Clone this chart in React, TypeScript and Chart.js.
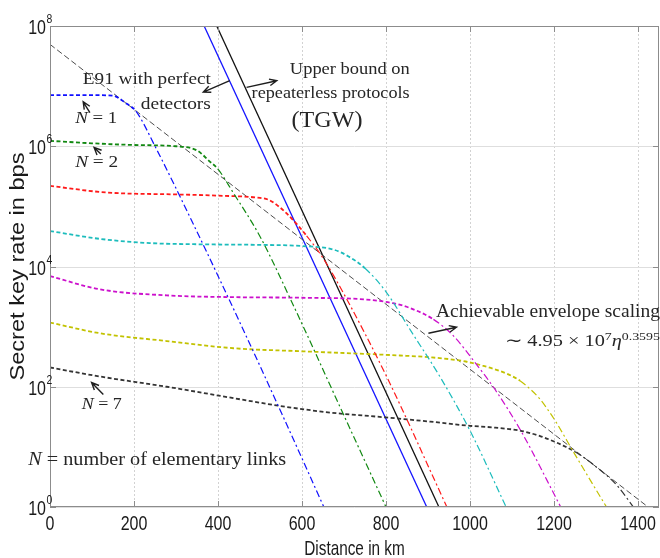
import React, { useEffect, useRef } from 'react';
import { Chart, registerables } from 'chart.js';

Chart.register(...registerables);

// ---- data (distance in km, secret key rate in bps) ----
const distN1 = [0, 100, 150, 180, 205, 250, 345, 450, 552, 652];
const rateN1 = [7.08e6, 7.08e6, 6.92e6, 5.25e6, 3.8e6, 1.0e6, 4.47e4, 1.26e3, 35.5, 1];

const distN2 = [0, 100, 200, 300, 350, 380, 400, 436, 500, 571, 700, 800];
const rateN2 = [1.23e6, 1.12e6, 1.05e6, 1.0e6, 8.51e5, 5.62e5, 4.17e5, 1.7e5, 3.16e4, 3.02e3, 33.1, 1];

const distN3 = [0, 135, 300, 400, 500, 520, 548, 575, 611, 650, 700, 802, 945];
const rateN3 = [2.19e5, 1.7e5, 1.58e5, 1.51e5, 1.38e5, 1.29e5, 9.55e4, 6.31e4, 3.24e4, 1.38e4, 3.47e3, 145, 1];

const distN4 = [0, 119, 238, 357, 500, 600, 675, 710, 750, 800, 860, 930, 1000, 1086];
const rateN4 = [3.89e4, 2.88e4, 2.45e4, 2.34e4, 2.29e4, 2.19e4, 1.91e4, 1.48e4, 9.33e3, 3.8e3, 832, 141, 18.6, 1];

const distN5 = [0, 119, 278, 437, 600, 754, 817, 857, 913, 960, 1010, 1060, 1120, 1216];
const rateN5 = [6.92e3, 4.17e3, 3.31e3, 3.09e3, 3.02e3, 2.82e3, 2.45e3, 2.04e3, 1.32e3, 708, 263, 89.1, 19.1, 1];

const distN6 = [0, 119, 278, 437, 600, 833, 905, 990, 1030, 1063, 1090, 1119, 1145, 1167, 1190, 1206, 1246, 1286, 1325];
const rateN6 = [1.17e3, 776, 575, 437, 389, 331, 309, 263, 224, 191, 162, 126, 89.1, 61.7, 37.2, 25.1, 8.32, 2.82, 1];

const distN7 = [0, 119, 278, 437, 548, 667, 800, 905, 1000, 1060, 1119, 1167, 1200, 1222, 1250, 1300, 1350, 1389];
const rateN7 = [209, 148, 100, 64.6, 47.9, 37.2, 30.9, 26.3, 22.4, 20.9, 18.6, 15.1, 12.3, 10.5, 8.32, 4.68, 2.29, 1];

const envelopeDist = [0, 1424];
const envelopeRate = [4.95e7, 1];

const e91Dist = [367, 897];
const e91Rate = [1e8, 1];

const tgwDist = [397, 926];
const tgwRate = [1e8, 1];

const xTickValues = [0, 200, 400, 600, 800, 1000, 1200, 1400];
const yTickValues = [1, 1e2, 1e4, 1e6, 1e8];
const yTickExponents = ['0', '2', '4', '6', '8'];

const curveDist = [distN1, distN2, distN3, distN4, distN5, distN6, distN7];
const curveRate = [rateN1, rateN2, rateN3, rateN4, rateN5, rateN6, rateN7];

// ---- styles ----
const curveStyles = [
  { color: '#1010ff', brk: 205 },
  { color: '#118811', brk: 400 },
  { color: '#ff1a1a', brk: 611 },
  { color: '#1cbcbc', brk: 750 },
  { color: '#cc10cc', brk: 913 },
  { color: '#c2c200', brk: 1119 },
  { color: '#333333', brk: 1250 },
];

type Run = { t: string; it?: boolean; sup?: boolean };
type Note = { runs: Run[]; x: number; e: number; size: number; width: number; align?: 'left' | 'right' | 'center' };

const notes: Note[] = [
  { runs: [{ t: 'E91 with perfect' }], x: 383, e: 7.03, size: 17.5, width: 128, align: 'right' },
  { runs: [{ t: 'detectors' }], x: 383, e: 6.62, size: 17.5, width: 70, align: 'right' },
  { runs: [{ t: 'Upper bound on' }], x: 571, e: 7.2, size: 17.5, width: 120 },
  { runs: [{ t: 'repeaterless protocols' }], x: 480, e: 6.81, size: 17.5, width: 158 },
  { runs: [{ t: '(TGW)' }], x: 575, e: 6.32, size: 23, width: 71 },
  { runs: [{ t: 'N', it: true }, { t: ' = 1' }], x: 60, e: 6.39, size: 16, width: 42 },
  { runs: [{ t: 'N', it: true }, { t: ' = 2' }], x: 60, e: 5.65, size: 16, width: 43 },
  { runs: [{ t: 'N', it: true }, { t: ' = 7' }], x: 75.5, e: 1.63, size: 16, width: 40 },
  { runs: [{ t: 'N', it: true }, { t: ' = number of elementary links' }], x: -52, e: 0.7, size: 18, width: 258 },
  { runs: [{ t: 'Achievable envelope scaling' }], x: 919, e: 3.16, size: 18, width: 224 },
  {
    runs: [{ t: '\u223C 4.95 \u00D7 10' }, { t: '7', sup: true }, { t: '\u03B7', it: true }, { t: '0.3595', sup: true }],
    x: 1083, e: 2.67, size: 16.5, width: 155,
  },
];

const arrows = [
  { from: [428, 7.09], to: [365, 6.9] },
  { from: [468, 6.98], to: [540, 7.09] },
  { from: [95, 6.56], to: [79, 6.74] },
  { from: [121, 5.87], to: [105, 5.98] },
  { from: [127, 1.87], to: [99, 2.07] },
  { from: [901, 2.89], to: [968, 2.99] },
];

const SANS = '"Liberation Sans", Arial, sans-serif';
const SERIF = '"Liberation Serif", "Times New Roman", serif';

function drawScaled(ctx: CanvasRenderingContext2D, text: string, x: number, y: number, font: string, sx: number, align: string) {
  ctx.save();
  ctx.font = font;
  const w = ctx.measureText(text).width * sx;
  const x0 = align === 'center' ? x - w / 2 : align === 'right' ? x - w : x;
  ctx.translate(x0, y);
  ctx.scale(sx, 1);
  ctx.textAlign = 'left';
  ctx.textBaseline = 'alphabetic';
  ctx.fillText(text, 0, 0);
  ctx.restore();
}

function drawRuns(ctx: CanvasRenderingContext2D, runs: Run[], x: number, y: number, size: number, targetW: number, align: string) {
  ctx.save();
  const fonts = runs.map((r) => `${r.it ? 'italic ' : ''}${r.sup ? size * 0.68 : size}px ${SERIF}`);
  const widths = runs.map((r, i) => {
    ctx.font = fonts[i];
    return ctx.measureText(r.t).width;
  });
  const total = widths.reduce((a, b) => a + b, 0);
  const sx = targetW / total;
  const w = total * sx;
  const x0 = align === 'center' ? x - w / 2 : align === 'right' ? x - w : x;
  ctx.translate(x0, y);
  ctx.scale(sx, 1);
  ctx.textAlign = 'left';
  ctx.textBaseline = 'alphabetic';
  let cx = 0;
  runs.forEach((r, i) => {
    ctx.font = fonts[i];
    ctx.fillText(r.t, cx, r.sup ? -size * 0.42 : 0);
    cx += widths[i];
  });
  ctx.restore();
}

const decorPlugin = {
  id: 'decor',
  beforeDatasetsDraw(chart: any) {
    const { ctx, chartArea: a, scales } = chart;
    const xs = scales.x;
    const ys = scales.y;
    ctx.save();
    ctx.strokeStyle = '#d2d2d2';
    ctx.lineWidth = 1;
    ctx.setLineDash([2, 2]);
    xTickValues.forEach((v) => {
      const px = Math.round(xs.getPixelForValue(v)) + 0.5;
      ctx.beginPath();
      ctx.moveTo(px, a.top);
      ctx.lineTo(px, a.bottom);
      ctx.stroke();
    });
    ctx.setLineDash([]);
    ctx.strokeStyle = '#dedede';
    yTickValues.forEach((v) => {
      const py = Math.round(ys.getPixelForValue(v)) + 0.5;
      ctx.beginPath();
      ctx.moveTo(a.left, py);
      ctx.lineTo(a.right, py);
      ctx.stroke();
    });
    ctx.restore();
  },
  afterDatasetsDraw(chart: any) {
    const { ctx, chartArea: a, scales } = chart;
    const xs = scales.x;
    const ys = scales.y;
    ctx.save();
    // box and inward ticks
    ctx.strokeStyle = '#8c8c8c';
    ctx.lineWidth = 1;
    ctx.strokeRect(a.left + 0.5, a.top + 0.5, a.right - a.left - 1, a.bottom - a.top - 1);
    ctx.beginPath();
    xTickValues.forEach((v) => {
      const px = Math.round(xs.getPixelForValue(v)) + 0.5;
      ctx.moveTo(px, a.bottom);
      ctx.lineTo(px, a.bottom - 6);
      ctx.moveTo(px, a.top);
      ctx.lineTo(px, a.top + 6);
    });
    yTickValues.forEach((v) => {
      const py = Math.round(ys.getPixelForValue(v)) + 0.5;
      ctx.moveTo(a.left, py);
      ctx.lineTo(a.left + 6, py);
      ctx.moveTo(a.right, py);
      ctx.lineTo(a.right - 6, py);
    });
    ctx.stroke();

    // tick labels
    ctx.fillStyle = '#1a1a1a';
    xTickValues.forEach((v) => {
      drawScaled(ctx, String(v), xs.getPixelForValue(v), a.bottom + 22.5, `20px ${SANS}`, 0.8, 'center');
    });
    yTickValues.forEach((v, i) => {
      const py = ys.getPixelForValue(v);
      drawScaled(ctx, '10', a.left - 4, py + 8, `20px ${SANS}`, 0.8, 'right');
      drawScaled(ctx, yTickExponents[i], a.left - 3.5, py - 3, `13px ${SANS}`, 0.8, 'left');
    });

    // axis titles
    drawScaled(ctx, 'Distance in km', (a.left + a.right) / 2, 555, `21px ${SANS}`, 0.73, 'center');
    ctx.save();
    ctx.translate(24, (a.top + a.bottom) / 2);
    ctx.rotate(-Math.PI / 2);
    ctx.font = `21px ${SANS}`;
    const tw = ctx.measureText('Secret key rate in bps').width;
    const sx = 228 / tw;
    ctx.scale(sx, 1);
    ctx.textAlign = 'center';
    ctx.fillText('Secret key rate in bps', 0, 0);
    ctx.restore();

    // annotations
    ctx.fillStyle = '#262626';
    notes.forEach((n) => {
      const px = xs.getPixelForValue(n.x);
      const py = ys.getPixelForValue(Math.pow(10, n.e));
      drawRuns(ctx, n.runs, px, py, n.size, n.width, n.align || 'left');
    });

    ctx.strokeStyle = '#1e1e1e';
    ctx.lineWidth = 1.4;
    arrows.forEach((ar) => {
      const x0 = xs.getPixelForValue(ar.from[0]);
      const y0 = ys.getPixelForValue(Math.pow(10, ar.from[1]));
      const x1 = xs.getPixelForValue(ar.to[0]);
      const y1 = ys.getPixelForValue(Math.pow(10, ar.to[1]));
      const ang = Math.atan2(y1 - y0, x1 - x0);
      const h = 8;
      const sp = 0.42;
      ctx.beginPath();
      ctx.moveTo(x0, y0);
      ctx.lineTo(x1, y1);
      ctx.moveTo(x1 - h * Math.cos(ang - sp), y1 - h * Math.sin(ang - sp));
      ctx.lineTo(x1, y1);
      ctx.lineTo(x1 - h * Math.cos(ang + sp), y1 - h * Math.sin(ang + sp));
      ctx.stroke();
    });
    ctx.restore();
  },
};

function pts(xs: number[], ys: number[]) {
  return xs.map((x, i) => ({ x, y: ys[i] }));
}

export default function App() {
  const ref = useRef<HTMLCanvasElement | null>(null);

  useEffect(() => {
    if (!ref.current) return;
    const headDash = [4, 2.5];
    const tailDash = [7, 3, 2, 3];
    const curveSets = curveDist.map((d, i) => {
      const st = curveStyles[i];
      return {
        label: `N = ${i + 1}`,
        data: pts(d, curveRate[i]),
        borderColor: st.color,
        borderWidth: 1.8,
        borderDash: headDash,
        cubicInterpolationMode: 'monotone' as const,
        pointRadius: 0,
        segment: {
          borderDash: (c: any) => (c.p0.parsed.x >= st.brk ? tailDash : headDash),
          borderWidth: (c: any) => (c.p0.parsed.x >= st.brk ? 1.2 : 1.8),
        },
      };
    });
    const chart = new Chart(ref.current, {
      type: 'line',
      data: {
        datasets: [
          ...curveSets,
          {
            label: 'Envelope',
            data: pts(envelopeDist, envelopeRate),
            borderColor: '#4d4d4d',
            borderWidth: 1,
            borderDash: [6, 3],
            pointRadius: 0,
          },
          {
            label: 'E91 perfect detectors',
            data: pts(e91Dist, e91Rate),
            borderColor: '#1414ff',
            borderWidth: 1.3,
            pointRadius: 0,
          },
          {
            label: 'TGW bound',
            data: pts(tgwDist, tgwRate),
            borderColor: '#111111',
            borderWidth: 1.3,
            pointRadius: 0,
          },
        ] as any,
      },
      options: {
        animation: false,
        responsive: false,
        events: [],
        layout: { padding: { top: 26, right: 1, left: 0, bottom: 0 } },
        plugins: {
          legend: { display: false },
          tooltip: { enabled: false },
          title: { display: false },
        },
        scales: {
          x: {
            type: 'linear',
            min: 0,
            max: 1450,
            grid: { display: false },
            border: { display: false },
            ticks: { display: false },
            afterFit: (s: any) => {
              s.height = 51;
            },
          },
          y: {
            type: 'logarithmic',
            min: 1,
            max: 1e8,
            grid: { display: false },
            border: { display: false },
            ticks: { display: false },
            afterFit: (s: any) => {
              s.width = 50;
            },
          },
        },
      } as any,
      plugins: [decorPlugin],
    });
    return () => chart.destroy();
  }, []);

  return (
    <div style={{ position: 'absolute', left: 0, top: 0, width: 660, height: 558, background: '#fff' }}>
      <canvas ref={ref} width={660} height={558} style={{ display: 'block', width: 660, height: 558 }} />
    </div>
  );
}
